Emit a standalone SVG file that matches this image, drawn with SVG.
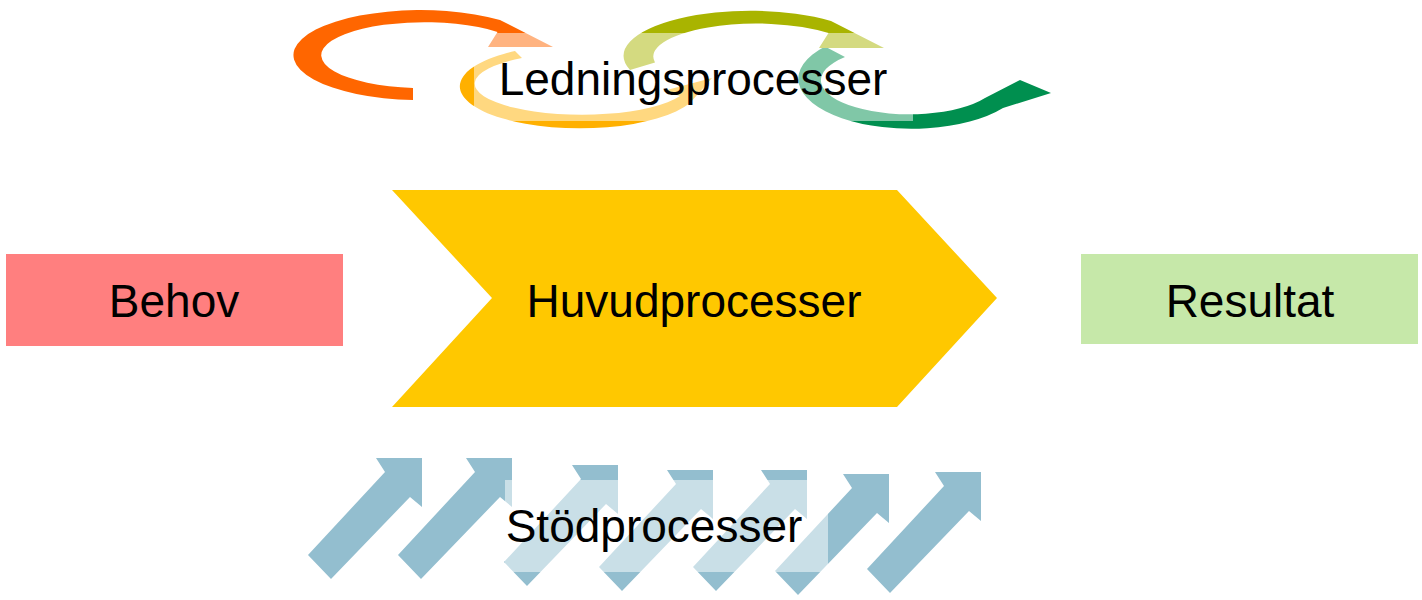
<svg xmlns="http://www.w3.org/2000/svg" xmlns:xlink="http://www.w3.org/1999/xlink" width="1422" height="600" viewBox="0 0 1422 600">
  <style>
    .lbl { font-family: "Liberation Sans", Arial, sans-serif; font-size: 46px; fill: #000; text-anchor: middle; }
    .veil { fill: #FFFFFF; fill-opacity: 0.5; }
    .up { fill: #93BECF; }
  </style>
  <defs>
    <polygon id="upArrow" points="-46,0 0,0 0,49 -12,39 -91,121 -114,97 -37,14"/>
  </defs>
  <rect width="1422" height="600" fill="#FFFFFF"/>

  <g id="ledningsprocesser">
    <path id="arrow-yellow" fill="#FFB000" d="M515,51 A120,42 0 1 0 690,103 L712,78 L663,91 L680,96 A107,31 0 1 1 522,58 Z"/>
    <path id="arrow-green" fill="#008F4F" d="M825,46.5 A113,50 0 1 0 1003,108 L1051,93 L1020,80 L985,98 A88.5,34 0 1 1 845,57 Z"/>
    <path id="arrow-orange" fill="#FF6600" d="M413,100 A127,45 0 1 1 500,20 L553,47 L488,47 L497.5,32 A103,33 0 1 0 413,88 Z"/>
    <path id="arrow-olive" fill="#A9B400" d="M630,70 A127,45 0 0 1 831,21 L884,48 L819,48 L828.5,33 A103,33 0 0 0 655,62.5 Z"/>
    <rect class="veil" x="474" y="33" width="439" height="88"/>
    <text class="lbl" x="693" y="95">Ledningsprocesser</text>
  </g>

  <g id="behov">
    <rect x="6" y="254" width="337" height="92" fill="#FF7F7F"/>
    <text class="lbl" x="174" y="317">Behov</text>
  </g>

  <g id="huvudprocesser">
    <polygon points="392,190 897,190 997,298 897,407 392,407 492,298" fill="#FFC800"/>
    <text class="lbl" x="694" y="317">Huvudprocesser</text>
  </g>

  <g id="resultat">
    <rect x="1081" y="254" width="337" height="90" fill="#C6E8A9"/>
    <text class="lbl" x="1250" y="317">Resultat</text>
  </g>

  <g id="stodprocesser">
    <use xlink:href="#upArrow" class="up" x="422" y="458"/>
    <use xlink:href="#upArrow" class="up" x="512" y="458"/>
    <use xlink:href="#upArrow" class="up" x="618" y="465"/>
    <use xlink:href="#upArrow" class="up" x="713" y="470"/>
    <use xlink:href="#upArrow" class="up" x="807" y="470"/>
    <use xlink:href="#upArrow" class="up" x="889" y="474"/>
    <use xlink:href="#upArrow" class="up" x="981" y="472"/>
    <rect class="veil" x="505" y="480" width="323" height="92"/>
    <text class="lbl" x="654" y="542">Stödprocesser</text>
  </g>

  <g id="connectors"></g>
</svg>
